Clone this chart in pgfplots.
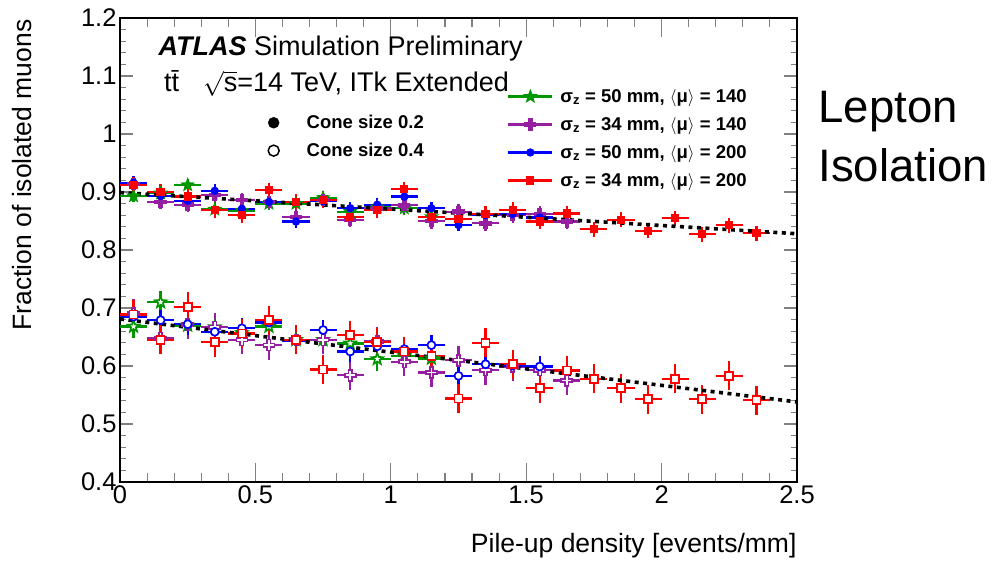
\documentclass[border=0pt]{standalone}
\usepackage{fontspec}
\setmainfont{Liberation Sans}
\usepackage{pgfplots}
\pgfplotsset{compat=1.18}

\definecolor{rgreen}{RGB}{0,150,0}
\definecolor{rviolet}{RGB}{150,30,160}
\definecolor{rblue}{RGB}{0,0,255}
\definecolor{rred}{RGB}{255,0,0}

% ROOT-like markers
\pgfdeclareplotmark{rstar}{%
  \pgfpathmoveto{\pgfpointpolar{90}{\pgfplotmarksize}}%
  \pgfpathlineto{\pgfpointpolar{126}{0.42\pgfplotmarksize}}%
  \pgfpathlineto{\pgfpointpolar{162}{\pgfplotmarksize}}%
  \pgfpathlineto{\pgfpointpolar{198}{0.42\pgfplotmarksize}}%
  \pgfpathlineto{\pgfpointpolar{234}{\pgfplotmarksize}}%
  \pgfpathlineto{\pgfpointpolar{270}{0.42\pgfplotmarksize}}%
  \pgfpathlineto{\pgfpointpolar{306}{\pgfplotmarksize}}%
  \pgfpathlineto{\pgfpointpolar{342}{0.42\pgfplotmarksize}}%
  \pgfpathlineto{\pgfpointpolar{18}{\pgfplotmarksize}}%
  \pgfpathlineto{\pgfpointpolar{54}{0.42\pgfplotmarksize}}%
  \pgfpathclose\pgfusepathqfillstroke}
\pgfdeclareplotmark{rcross}{%
  \pgfpathmoveto{\pgfqpoint{0.3\pgfplotmarksize}{\pgfplotmarksize}}%
  \pgfpathlineto{\pgfqpoint{0.3\pgfplotmarksize}{0.3\pgfplotmarksize}}%
  \pgfpathlineto{\pgfqpoint{\pgfplotmarksize}{0.3\pgfplotmarksize}}%
  \pgfpathlineto{\pgfqpoint{\pgfplotmarksize}{-0.3\pgfplotmarksize}}%
  \pgfpathlineto{\pgfqpoint{0.3\pgfplotmarksize}{-0.3\pgfplotmarksize}}%
  \pgfpathlineto{\pgfqpoint{0.3\pgfplotmarksize}{-\pgfplotmarksize}}%
  \pgfpathlineto{\pgfqpoint{-0.3\pgfplotmarksize}{-\pgfplotmarksize}}%
  \pgfpathlineto{\pgfqpoint{-0.3\pgfplotmarksize}{-0.3\pgfplotmarksize}}%
  \pgfpathlineto{\pgfqpoint{-\pgfplotmarksize}{-0.3\pgfplotmarksize}}%
  \pgfpathlineto{\pgfqpoint{-\pgfplotmarksize}{0.3\pgfplotmarksize}}%
  \pgfpathlineto{\pgfqpoint{-0.3\pgfplotmarksize}{0.3\pgfplotmarksize}}%
  \pgfpathlineto{\pgfqpoint{-0.3\pgfplotmarksize}{\pgfplotmarksize}}%
  \pgfpathclose\pgfusepathqfillstroke}

\pgfplotsset{
  ser/.style n args={4}{color=#1, mark=#2, mark size=#3, only marks,
    mark options={solid, line width=1.3pt},
    error bars/.cd, x dir=both, x fixed=0.05, y dir=both, y fixed=#4,
    error mark=none, error bar style={line width=2.3pt, solid}, /pgfplots/.cd},
  open/.style={mark options={solid, fill=white, line width=1.7pt}},
  fitline/.style={black, line width=3.6pt, dash pattern=on 4pt off 4.5pt, no marks, forget plot},
  leg/.style={legend image code/.code={%
    \draw[line width=2.2pt, solid] (0pt,0pt) -- (44pt,0pt);
    \draw[only marks] plot coordinates {(22pt,0pt)};
    \path[draw=none] (0pt,0pt) -- (50pt,0pt);}},
  coneleg/.style={legend image code/.code={%
    \draw[only marks] plot coordinates {(5pt,0pt)};
    \path[draw=none] (0pt,0pt) -- (36pt,0pt);}},
}

\begin{document}
\begin{tikzpicture}
\begin{axis}[
  name=ax,
  scale only axis,
  width=677pt, height=464pt,
  xmin=0, xmax=2.5, ymin=0.4, ymax=1.2,
  xtick={0,0.5,...,2.5}, ytick={0.4,0.5,...,1.2},
  minor x tick num=4, minor y tick num=4,
  tick align=inside,
  xtick style={/pgfplots/major tick length=19pt, /pgfplots/minor tick length=9pt, line width=1.1pt},
  ytick style={/pgfplots/major tick length=13pt, /pgfplots/minor tick length=6.5pt, line width=1.1pt},
  axis line style={line width=1.4pt},
  tick label style={font=\fontsize{25.5}{28}\selectfont},
  /pgf/number format/assume math mode=true,
  /pgf/number format/.cd, fixed, precision=1, /pgfplots/.cd,
  label style={font=\fontsize{26.5}{30}\selectfont},
  xlabel={Pile-up density [events/mm]},
  xlabel style={at={(rel axis cs:1.0044,-0.153)}, anchor=base east},
  ylabel={Fraction of isolated muons},
  ylabel style={at={(rel axis cs:-0.130,1.004)}, anchor=base east},
  clip=false,
  legend style={draw=none, fill=none, at={(0.5717,0.851)}, anchor=north west,
    font=\bfseries\fontsize{18.5}{21}\selectfont, row sep=9.5pt,
    legend cell align=left, inner sep=0pt},
]
% cone size 0.2 (filled markers)
\addplot+[ser={rgreen}{rstar}{6pt}{0.011}, leg] coordinates {
 (0.05,0.893) (0.15,0.898) (0.25,0.912) (0.35,0.870) (0.45,0.868) (0.55,0.880)
 (0.65,0.880) (0.75,0.890) (0.85,0.866) (0.95,0.874) (1.05,0.872) (1.15,0.857)};
\addlegendentry{σ\textsubscript{z} = 50 mm, $\langle$μ$\rangle$ = 140}
\addplot+[ser={rviolet}{rcross}{5.5pt}{0.013}, leg] coordinates {
 (0.05,0.914) (0.15,0.883) (0.25,0.878) (0.35,0.895) (0.45,0.886) (0.55,0.883)
 (0.65,0.857) (0.75,0.886) (0.85,0.852) (0.95,0.872) (1.05,0.877) (1.15,0.850)
 (1.25,0.866) (1.35,0.846) (1.45,0.860) (1.55,0.862) (1.65,0.849)};
\addlegendentry{σ\textsubscript{z} = 34 mm, $\langle$μ$\rangle$ = 140}
\addplot+[ser={rblue}{*}{3.5pt}{0.011}, leg] coordinates {
 (0.05,0.916) (0.15,0.893) (0.25,0.885) (0.35,0.902) (0.45,0.871) (0.55,0.883)
 (0.65,0.849) (0.75,0.884) (0.85,0.872) (0.95,0.878) (1.05,0.892) (1.15,0.872)
 (1.25,0.843) (1.35,0.860) (1.45,0.862) (1.55,0.856)};
\addlegendentry{σ\textsubscript{z} = 50 mm, $\langle$μ$\rangle$ = 200}
\addplot+[ser={rred}{square*}{3.5pt}{0.013}, leg] coordinates {
 (0.05,0.912) (0.15,0.900) (0.25,0.892) (0.35,0.869) (0.45,0.860) (0.55,0.903)
 (0.65,0.883) (0.75,0.886) (0.85,0.857) (0.95,0.869) (1.05,0.905) (1.15,0.857)
 (1.25,0.853) (1.35,0.862) (1.45,0.869) (1.55,0.849) (1.65,0.863) (1.75,0.836)
 (1.85,0.852) (1.95,0.833) (2.05,0.855) (2.15,0.827) (2.25,0.843) (2.35,0.829)};
\addlegendentry{σ\textsubscript{z} = 34 mm, $\langle$μ$\rangle$ = 200}
% cone size 0.4 (open markers)
\addplot+[ser={rgreen}{rstar}{6pt}{0.02}, open, forget plot] coordinates {
 (0.05,0.668) (0.15,0.710) (0.25,0.670) (0.35,0.667) (0.45,0.657) (0.55,0.668)
 (0.65,0.645) (0.75,0.645) (0.85,0.639) (0.95,0.612) (1.05,0.617) (1.15,0.613)};
\addplot+[ser={rviolet}{rcross}{5.5pt}{0.025}, open, forget plot] coordinates {
 (0.05,0.690) (0.15,0.648) (0.25,0.672) (0.35,0.667) (0.45,0.645) (0.55,0.636)
 (0.65,0.645) (0.75,0.645) (0.85,0.584) (0.95,0.642) (1.05,0.607) (1.15,0.589)
 (1.25,0.610) (1.35,0.593) (1.45,0.599) (1.55,0.593) (1.65,0.575)};
\addplot+[ser={rblue}{*}{4pt}{0.018}, open, forget plot] coordinates {
 (0.05,0.685) (0.15,0.679) (0.25,0.672) (0.35,0.659) (0.45,0.665) (0.55,0.675)
 (0.65,0.644) (0.75,0.662) (0.85,0.625) (0.95,0.634) (1.05,0.629) (1.15,0.636)
 (1.25,0.583) (1.35,0.603) (1.45,0.601) (1.55,0.599)};
\addplot+[ser={rred}{square*}{4pt}{0.025}, open, forget plot] coordinates {
 (0.05,0.689) (0.15,0.645) (0.25,0.702) (0.35,0.641) (0.45,0.656) (0.55,0.679)
 (0.65,0.645) (0.75,0.594) (0.85,0.653) (0.95,0.641) (1.05,0.625) (1.15,0.617)
 (1.25,0.544) (1.35,0.640) (1.45,0.603) (1.55,0.562) (1.65,0.592) (1.75,0.578)
 (1.85,0.562) (1.95,0.543) (2.05,0.578) (2.15,0.543) (2.25,0.583) (2.35,0.541)};
% linear trends
\addplot[fitline] coordinates {(0,0.899) (2.5,0.828)};
\addplot[fitline] coordinates {(0,0.681) (2.5,0.538)};
% texts
\node[anchor=base west, font=\fontsize{27}{30}\selectfont] at (rel axis cs:0.0517,0.920)
  {\textbf{\textit{ATLAS}} Simulation Preliminary};
\node[anchor=base west, font=\fontsize{27}{30}\selectfont] at (rel axis cs:0.060,0.8405)
  {t\={t}\hspace{24pt}$\sqrt{\mbox{s}}$=14 TeV, ITk Extended};
\node[anchor=base west, font=\fontsize{45.5}{52}\selectfont] at (rel axis cs:1.0265,0.7737) {Lepton};
\node[anchor=base west, font=\fontsize{45.5}{52}\selectfont] at (rel axis cs:1.0265,0.6466) {Isolation};
\end{axis}
% second legend: cone sizes
\begin{axis}[
  scale only axis, width=677pt, height=464pt,
  xmin=0, xmax=1, ymin=0, ymax=1, hide axis,
  legend style={draw=none, fill=none, at={(0.2186,0.795)}, anchor=north west,
    font=\bfseries\fontsize{18.5}{21}\selectfont, row sep=9pt,
    legend cell align=left, inner sep=0pt},
]
\addlegendimage{only marks, mark=*, black, mark size=5.5pt, coneleg}
\addlegendentry{Cone size 0.2}
\addlegendimage{only marks, mark=*, black, mark size=5.5pt, mark options={fill=white, line width=1.5pt}, coneleg}
\addlegendentry{Cone size 0.4}
\end{axis}
\pgfresetboundingbox
\path ([shift={(-120pt,-79pt)}]ax.south west) rectangle ([shift={(198pt,18pt)}]ax.north east);
\end{tikzpicture}
\end{document}
